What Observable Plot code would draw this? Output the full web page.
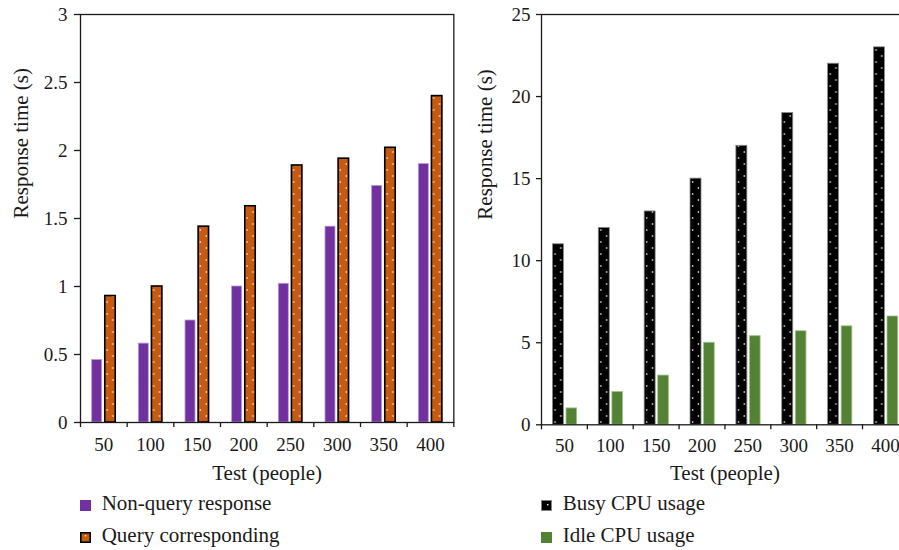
<!DOCTYPE html>
<html><head><meta charset="utf-8">
<script src="https://cdn.jsdelivr.net/npm/d3@7"></script>
<script src="https://cdn.jsdelivr.net/npm/@observablehq/plot@0.6"></script>
<style>
body{margin:0;background:#fff;}
#wrap{position:relative;width:899px;height:550px;overflow:hidden;font-family:"Liberation Serif","Times New Roman",Tinos,"DejaVu Serif",serif;color:#1a1a1a;background:#fff;}
#left{position:absolute;left:0;top:0;width:460px}
#right{position:absolute;left:460px;top:0;width:449px}
svg{max-width:none !important}
.legend{position:absolute;font-size:21px}
.row{position:relative;height:32px;line-height:32px;white-space:nowrap}
.sw{position:absolute;left:0;top:12.5px;width:11px;height:11px}
.lbl{position:absolute;left:21.7px;top:0}
</style></head><body>
<div id="wrap"><div id="left"></div><div id="right"></div>
<div class="legend" id="legL" style="left:80px;top:487px"></div>
<div class="legend" id="legR" style="left:541px;top:487px"></div></div>
<script>
const testPeople = [50, 100, 150, 200, 250, 300, 350, 400];
const nonQueryResponse = [0.46, 0.58, 0.75, 1.0, 1.02, 1.44, 1.74, 1.90];
const queryCorresponding = [0.93, 1.0, 1.44, 1.59, 1.89, 1.94, 2.02, 2.40];
const busyCPU = [11, 12, 13, 15, 17, 19, 22, 23];
const idleCPU = [1, 2, 3, 5, 5.4, 5.7, 6, 6.6];
const leftTicks = [0, 0.5, 1, 1.5, 2, 2.5, 3];
const rightTicks = [0, 5, 10, 15, 20, 25];
const leftSeries = ["Non-query response", "Query corresponding"];
const rightSeries = ["Busy CPU usage", "Idle CPU usage"];
const xTitle = "Test (people)";
const yTitle = "Response time (s)";

const ink = "#1a1a1a";
const purple = "#7030A0", orange = "#C55A11", green = "#548235";
const serif = '"Liberation Serif", "Times New Roman", Tinos, "DejaVu Serif", serif';

const leftTable = testPeople.map((t, i) => ({test: t, a: nonQueryResponse[i], b: queryCorresponding[i]}));
const rightTable = testPeople.map((t, i) => ({test: t, a: busyCPU[i], b: idleCPU[i]}));

const baseStyle = {fontFamily: serif, fontSize: "19px", color: ink, background: "white", maxWidth: "none"};

function addDots(svg, id, bg, dots, period, size, dotColor) {
  let els = [...svg.querySelectorAll(`[fill="url(#${id})"]`)];
  let rects = [];
  els.forEach(e => { if (e.tagName.toLowerCase() === "rect") rects.push(e); else rects.push(...e.querySelectorAll("rect")); });
  const x0 = +rects[0].getAttribute("x");
  const step = +rects[1].getAttribute("x") - x0;
  const w = +rects[0].getAttribute("width");
  const defs = d3.select(svg).insert("defs", ":first-child");
  const p = defs.append("pattern").attr("id", id).attr("patternUnits", "userSpaceOnUse")
    .attr("x", x0).attr("y", 0).attr("width", step).attr("height", period);
  p.append("rect").attr("width", step).attr("height", period).attr("fill", bg);
  dots.forEach(([dx, dy]) => p.append("rect").attr("x", w / 2 + dx - size / 2).attr("y", dy - size / 2)
    .attr("width", size).attr("height", size).attr("fill", dotColor));
}

const stepL = (453.33 - 80) / testPeople.length;
const left = Plot.plot({
  width: 460, height: 490, marginLeft: 80, marginRight: 6.67, marginTop: 14, marginBottom: 68,
  style: baseStyle,
  x: {type: "band", domain: testPeople, padding: 0, round: false},
  y: {domain: [0, 3]},
  marks: [
    Plot.barY(leftTable, {x: "test", y: "a", fill: purple, stroke: "#b69fd0", strokeWidth: 0.8, insetLeft: 18.33, insetRight: 18.33, dx: -6.67}),
    Plot.barY(leftTable, {x: "test", y: "b", fill: "url(#patQ)", stroke: "#000", strokeWidth: 1.6, insetLeft: 18.1, insetRight: 18.1, dx: 6.67}),
    Plot.frame({stroke: ink, strokeWidth: 1.3}),
    Plot.axisY({ticks: leftTicks, tickFormat: d => String(d), tickSize: 6, tickPadding: 7, label: null, strokeWidth: 1.3}),
    Plot.axisX({ticks: testPeople, tickSize: 5, dx: -stepL / 2, tickFormat: () => "", label: null, strokeWidth: 1.3}),
    Plot.axisX({ticks: [testPeople[testPeople.length - 1]], tickSize: 5, dx: stepL / 2, tickFormat: () => "", label: null, strokeWidth: 1.3}),
    Plot.axisX({ticks: testPeople, tickSize: 0, tickPadding: 15, tickFormat: d => String(d), label: null}),
    Plot.text([yTitle], {text: d => d, frameAnchor: "left", rotate: -90, dx: -59, fontSize: 21}),
    Plot.text([xTitle], {text: d => d, frameAnchor: "bottom", dy: 57, fontSize: 21})
  ]
});
document.getElementById("left").appendChild(left);
addDots(left, "patQ", orange, [[-3, 2], [3, 8]], 12, 1.4, "#fff3e8");

const stepR = 45.86;
const right = Plot.plot({
  width: 449, height: 490, marginLeft: 81, marginRight: 449 - 81 - stepR * testPeople.length, marginTop: 14, marginBottom: 65.7,
  style: baseStyle,
  x: {type: "band", domain: testPeople, padding: 0, round: false},
  y: {domain: [0, 25]},
  marks: [
    Plot.barY(rightTable, {x: "test", y: "a", fill: "url(#patB)", stroke: "#8a8a8a", strokeWidth: 0.8, insetLeft: 17.43, insetRight: 17.43, dx: -6}),
    Plot.barY(rightTable, {x: "test", y: "b", fill: green, stroke: "#a3c391", strokeWidth: 0.8, insetLeft: 17.58, insetRight: 17.58, dx: 7.4}),
    Plot.frame({stroke: ink, strokeWidth: 1.3}),
    Plot.axisY({ticks: rightTicks, tickFormat: d => String(d), tickSize: 5, tickPadding: 6, label: null, strokeWidth: 1.3}),
    Plot.axisX({ticks: testPeople, tickSize: 5, dx: -stepR / 2, tickFormat: () => "", label: null, strokeWidth: 1.3}),
    Plot.axisX({ticks: testPeople, tickSize: 0, tickPadding: 13.5, tickFormat: d => String(d), label: null}),
    Plot.text([yTitle], {text: d => d, frameAnchor: "left", rotate: -90, dx: -56.3, fontSize: 21}),
    Plot.text([xTitle], {text: d => d, frameAnchor: "bottom", dy: 54.7, fontSize: 21})
  ]
});
document.getElementById("right").appendChild(right);
addDots(right, "patB", "#000", [[-2.9, 2], [2.9, 8]], 12, 1.4, "#fff");

function legend(el, names, swatches) {
  names.forEach((n, i) => {
    const row = document.createElement("div");
    row.className = "row";
    row.innerHTML = `<svg class="sw" viewBox="0 0 11 11">${swatches[i]}</svg><span class="lbl">${n}</span>`;
    el.appendChild(row);
  });
}
legend(document.getElementById("legL"), leftSeries, [
  `<rect x="0" y="0" width="11" height="11" fill="${purple}"/>`,
  `<rect x="0.8" y="0.8" width="9.4" height="9.4" fill="${orange}" stroke="#000" stroke-width="1.6"/><rect x="4.8" y="3" width="1.4" height="1.4" fill="#fff3e8"/>`
]);
legend(document.getElementById("legR"), rightSeries, [
  `<rect x="0.4" y="0.4" width="10.2" height="10.2" fill="#000" stroke="#8a8a8a" stroke-width="0.8"/><rect x="6" y="4" width="1.4" height="1.4" fill="#fff"/>`,
  `<rect x="0" y="0" width="11" height="11" fill="${green}"/>`
]);
</script>
</body></html>
